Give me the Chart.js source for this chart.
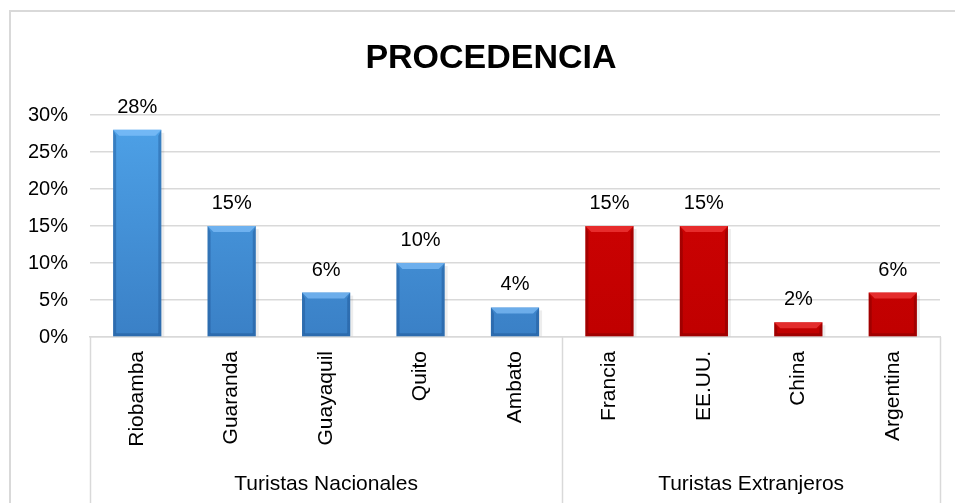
<!DOCTYPE html>
<html>
<head>
<meta charset="utf-8">
<script src="https://cdn.jsdelivr.net/npm/chart.js@4/dist/chart.umd.min.js"></script>
<style>
  html, body { margin: 0; padding: 0; background: #fff; }
  #wrap { position: relative; width: 955px; height: 503px; }
</style>
</head>
<body>
<div id="wrap"><canvas id="myChart"></canvas></div>
<script>
'use strict';

const chartTitle = 'PROCEDENCIA';
const categories = ['Riobamba', 'Guaranda', 'Guayaquil', 'Quito', 'Ambato', 'Francia', 'EE.UU.', 'China', 'Argentina'];
const values = [28, 15, 6, 10, 4, 15, 15, 2, 6];
const groupNames = ['Turistas Nacionales', 'Turistas Extranjeros'];
const groupSizes = [5, 4];
const yMax = 30;
const yStep = 5;

const FONT = '"Liberation Sans", Arial, sans-serif';
const GRID = '#d9d9d9';

// which group each bar belongs to
const groupOf = [];
groupSizes.forEach((n, g) => { for (let i = 0; i < n; i++) groupOf.push(g); });

const palette = [
  { top: '#4ea2e8', bottom: '#3a80c6', light: 'rgba(140,200,255,0.6)', dark: 'rgba(20,70,130,0.35)' },
  { top: '#d40404', bottom: '#c00000', light: 'rgba(255,80,80,0.55)', dark: 'rgba(100,0,0,0.35)' }
];

// Excel-ish bevel on top of every bar
const bevelPlugin = {
  id: 'bevel',
  afterDatasetsDraw(chart) {
    const c = chart.ctx;
    chart.getDatasetMeta(0).data.forEach((bar, i) => {
      const p = bar.getProps(['x', 'y', 'base', 'width'], true);
      const l = p.x - p.width / 2, r = p.x + p.width / 2;
      const t = p.y, b = p.base;
      const d = Math.min(6, (b - t) / 2);
      const col = palette[groupOf[i]];
      c.save();
      // top facet
      c.fillStyle = col.light;
      c.beginPath();
      c.moveTo(l, t); c.lineTo(r, t); c.lineTo(r - d, t + d); c.lineTo(l + d, t + d); c.closePath();
      c.fill();
      // side facets
      c.fillStyle = col.dark;
      c.beginPath();
      c.moveTo(l, t); c.lineTo(l + d * 0.5, t + d); c.lineTo(l + d * 0.5, b - d * 0.5); c.lineTo(l, b); c.closePath();
      c.fill();
      c.beginPath();
      c.moveTo(r, t); c.lineTo(r - d * 0.5, t + d); c.lineTo(r - d * 0.5, b - d * 0.5); c.lineTo(r, b); c.closePath();
      c.fill();
      // bottom facet
      c.beginPath();
      c.moveTo(l, b); c.lineTo(r, b); c.lineTo(r - d * 0.5, b - d * 0.5); c.lineTo(l + d * 0.5, b - d * 0.5); c.closePath();
      c.fill();
      // soft shadow right
      c.fillStyle = 'rgba(0,0,0,0.07)';
      c.fillRect(r, t + 3, 3, b - t - 3);
      c.restore();
    });
  }
};

const extrasPlugin = {
  id: 'extras',
  beforeDraw(chart) {
    const c = chart.ctx;
    c.save();
    c.fillStyle = '#fff';
    c.fillRect(0, 0, chart.width, chart.height);
    c.strokeStyle = GRID;
    c.lineWidth = 2;
    c.beginPath();
    c.moveTo(10, chart.height); c.lineTo(10, 11); c.lineTo(chart.width, 11);
    c.stroke();
    c.restore();
  },
  afterDraw(chart) {
    const c = chart.ctx;
    const area = chart.chartArea;
    const xs = chart.scales.x;
    c.save();
    // title
    c.fillStyle = '#000';
    c.font = 'bold 34px ' + FONT;
    c.textAlign = 'center';
    c.textBaseline = 'alphabetic';
    c.fillText(chartTitle, 491, 68);

    // value labels
    c.font = '20px ' + FONT;
    chart.getDatasetMeta(0).data.forEach((bar, i) => {
      c.fillText(values[i] + '%', bar.x, bar.y - 17);
    });

    // group separators and group labels
    c.strokeStyle = GRID;
    c.lineWidth = 1.5;
    let start = 0;
    const edges = [area.left];
    groupSizes.forEach(n => {
      start += n;
      const idx = start - 1;
      const edge = start < categories.length
        ? (xs.getPixelForValue(idx) + xs.getPixelForValue(idx + 1)) / 2
        : area.right;
      edges.push(edge);
    });
    edges.forEach(x => {
      c.beginPath();
      c.moveTo(Math.round(x) + 0.5, area.bottom);
      c.lineTo(Math.round(x) + 0.5, chart.height);
      c.stroke();
    });
    c.font = '21px ' + FONT;
    groupNames.forEach((name, g) => {
      c.fillText(name, (edges[g] + edges[g + 1]) / 2, 490);
    });
    c.restore();
  }
};

const ctx = document.getElementById('myChart');

const myChart = new Chart(ctx, {
  type: 'bar',
  data: {
    labels: categories,
    datasets: [{
      data: values,
      backgroundColor: (context) => {
        const col = palette[groupOf[context.dataIndex]];
        const area = context.chart.chartArea;
        if (!area) return col.top;
        const g = context.chart.ctx.createLinearGradient(0, area.top, 0, area.bottom);
        g.addColorStop(0, col.top);
        g.addColorStop(1, col.bottom);
        return g;
      },
      borderWidth: 0,
      categoryPercentage: 1,
      barPercentage: 0.51
    }]
  },
  options: {
    responsive: true,
    maintainAspectRatio: false,
    animation: false,
    layout: { padding: { top: 115, right: 15, left: 0, bottom: 0 } },
    plugins: {
      legend: { display: false },
      tooltip: { enabled: false },
      title: { display: false }
    },
    scales: {
      x: {
        afterFit(scale) { scale.height = 166; },
        grid: { display: false, drawTicks: false },
        border: { display: true, color: GRID, width: 1.5 },
        ticks: {
          autoSkip: false,
          minRotation: 90,
          maxRotation: 90,
          padding: 14,
          color: '#000',
          font: { family: FONT, size: 21 }
        }
      },
      y: {
        min: 0,
        max: yMax,
        afterFit(scale) { scale.width = 90; },
        grid: { color: GRID, lineWidth: 1.5, drawTicks: false },
        border: { display: false },
        ticks: {
          stepSize: yStep,
          padding: 22,
          color: '#000',
          font: { family: FONT, size: 20 },
          callback: v => v + '%'
        }
      }
    }
  },
  plugins: [extrasPlugin, bevelPlugin]
});
</script>
</body>
</html>
